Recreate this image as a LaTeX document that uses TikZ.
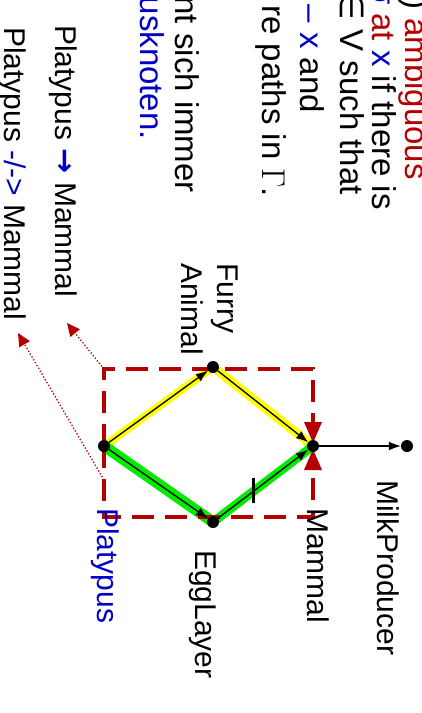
\documentclass[tikz,border=0pt]{standalone}
\usepackage{fontspec}
\setmainfont{Liberation Sans}
\newfontfamily\dejavu{DejaVu Sans}
\newfontfamily\lmr{Latin Modern Roman}
\usetikzlibrary{arrows.meta}
\definecolor{dred}{RGB}{180,0,0}
\definecolor{dblue}{RGB}{0,0,200}
\definecolor{hlyellow}{RGB}{255,255,0}
\definecolor{hlgreen}{RGB}{0,235,0}
\pgfdeclarelayer{background}
\pgfdeclarelayer{front}
\pgfsetlayers{background,main,front}
\begin{document}
\begin{tikzpicture}[x=1pt,y=-1pt,
  every node/.style={font=\fontsize{30}{36}\selectfont, inner sep=0pt},
  bigtext/.style={font=\fontsize{33}{38}\selectfont},
  dot/.style={circle,fill=black,minimum size=12pt,inner sep=0pt},
  txt/.style={rotate=-90, anchor=base west},
  txtend/.style={rotate=-90, anchor=base east, bigtext},
  edgearrow/.style={line width=1.3pt,-{Latex[length=12pt,width=9pt]}},
  hly/.style={line width=8pt,hlyellow},
  hlg/.style={line width=11pt,hlgreen},
  frame/.style={dred,line width=3.5pt,dash pattern=on 22pt off 11pt,-{Triangle[length=21pt,width=17pt]}},
  pointer/.style={dred,line width=1.3pt,dotted,-{Triangle[length=13pt,width=12pt]}}]
\useasboundingbox (0,0) rectangle (422,713);
% dots
\begin{pgfonlayer}{front}
\node[dot] (plat) at (104,446) {};
\node[dot] (furry) at (213,367) {};
\node[dot] (egg) at (213,522) {};
\node[dot] (mam) at (313,446) {};
\node[dot] (milk) at (407,446) {};
\end{pgfonlayer}
% highlights
\begin{pgfonlayer}{background}
\draw[hly] (plat.center) -- (furry.center);
\draw[hly,line width=9pt] (furry.center) -- (mam.center);
\draw[hlg] (plat.center) -- (egg.center);
\draw[hlg,line width=9pt] (egg.center) -- (mam.center);
\end{pgfonlayer}
% frame
\coordinate (tl) at (104,369);
\coordinate (tr) at (313,369);
\coordinate (bl) at (104,517);
\coordinate (br) at (313,517);
\coordinate (mtop) at (313,443);
\coordinate (mbot) at (313,449);
\draw[frame] (plat.center) -- (tl) -- (tr) -- (mtop);
\draw[frame] (plat.center) -- (bl) -- (br) -- (mbot);
% edges
\draw[edgearrow] (plat) -- (furry);
\draw[edgearrow] (furry) -- (mam);
\draw[edgearrow] (plat) -- (egg);
\draw[edgearrow] (egg) -- (mam) node[pos=0.4, rectangle, fill=black, minimum width=3pt, minimum height=25pt, inner sep=0pt] (tick) {};
\draw[edgearrow] (mam) -- (milk);
% pointers
\coordinate (p1) at (67,323);
\coordinate (p2) at (18,333);
\coordinate (pl) at (104,480);
\draw[pointer] (tl) -- (p1);
\draw[pointer] (pl) -- (p2);
% labels
\node[rotate=-90,anchor=north west,align=left] (lfurry) at (238,263) {Furry\\Animal};
\node[txt] (legg) at (195,550) {EggLayer};
\node[txt] (lmam) at (307,508) {Mammal};
\node[txt] (lmilk) at (377,480) {MilkProducer};
\node[txt,text=dblue] (lplat) at (97,508) {Platypus};
% text block
\node[txtend] (l1) at (405,180) {) \textcolor{dred}{ambiguous}};
\node[txtend] (l2) at (372,210) {\textcolor{dblue}{σ} \textcolor{dred}{at} \textcolor{dblue}{x} if there is};
\node[txtend] (l3) at (340,195) {{\dejavu ∈} V such that};
\node[txtend] (l4) at (300,113) {\textcolor{dblue}{σ – x} and};
\node[txtend] (l5) at (262,197) {re paths in {\lmr Γ}.};
\node[txtend] (l6) at (175,193) {nt sich immer};
\node[txtend,text=dblue] (l7) at (140,140) {usknoten.};
\node[txt] (l8) at (55,25) {Platypus \textcolor{dblue}{{\dejavu\bfseries →}} Mammal};
\node[txt] (l9) at (5,27) {Platypus \textcolor{dblue}{-/->} Mammal};
\end{tikzpicture}
\end{document}
